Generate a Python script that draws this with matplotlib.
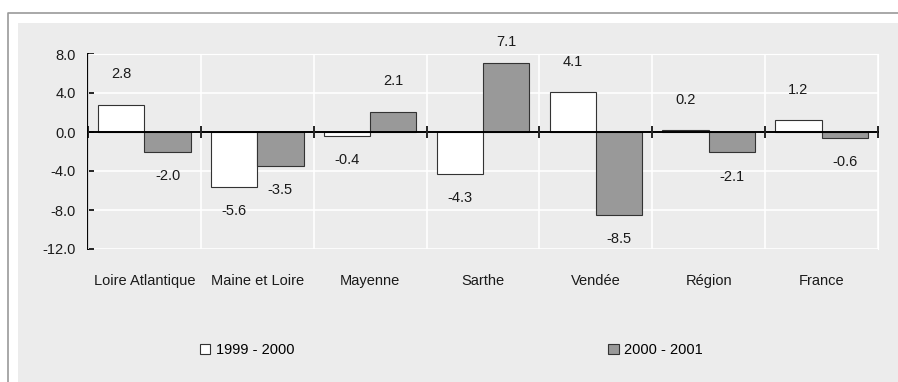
import matplotlib
matplotlib.use("Agg")
import matplotlib.pyplot as plt
from matplotlib.patches import Rectangle, Patch
from matplotlib.lines import Line2D
import numpy as np

plt.rcParams['font.family'] = ['Liberation Sans', 'DejaVu Sans']

# taux d'évolution par département
categories = ['Loire Atlantique', 'Maine et Loire', 'Mayenne', 'Sarthe',
              'Vendée', 'Région', 'France']
v_1999_2000 = [2.8, -5.6, -0.4, -4.3, 4.1, 0.2, 1.2]
v_2000_2001 = [-2.0, -3.5, 2.1, 7.1, -8.5, -2.1, -0.6]
series_names = ['1999 - 2000', '2000 - 2001']
yticks = [-12.0, -8.0, -4.0, 0.0, 4.0, 8.0]

W, H = 898, 382
fs = 10.5
txt = '#1a1a1a'
fig = plt.figure(figsize=(W / 100, H / 100), dpi=100)
fig.patch.set_facecolor('white')

# fond gris et cadre
bg = '#ececec'
fig.add_artist(Rectangle((18 / W, 0), 1 - 18 / W, 1 - 23 / H,
                         transform=fig.transFigure, facecolor=bg,
                         edgecolor='none', zorder=0))
fig.add_artist(Line2D([8 / W, 8 / W, 1], [0, 1 - 13 / H, 1 - 13 / H],
                      transform=fig.transFigure, color='#9a9a9a', lw=1.2))

ax = fig.add_axes([88 / W, 1 - 249 / H, (878 - 88) / W, (249 - 54) / H])
ax.set_facecolor(bg)

x = np.arange(len(categories))
w = 0.41
ax.bar(x - w / 2, v_1999_2000, w, color='white', edgecolor='#333333',
       linewidth=0.8, zorder=3)
ax.bar(x + w / 2, v_2000_2001, w, color='#999999', edgecolor='#333333',
       linewidth=0.8, zorder=3)

ax.set_xlim(-0.5, len(categories) - 0.5)
ax.set_ylim(-12, 8)

# étiquettes de valeurs
for xs, vals in ((x - w / 2, v_1999_2000), (x + w / 2, v_2000_2001)):
    for xi, v in zip(xs, vals):
        if v >= 0:
            y = min(v + 3.1, 9.2)
        else:
            y = v - 2.5
        ax.text(xi, y, f"{v:.1f}", ha='center', va='center', fontsize=fs,
                color=txt)

# axes
ax.set_yticks(yticks)
ax.set_yticklabels([f"{t:.1f}" for t in yticks], fontsize=fs, color=txt)
ax.tick_params(axis='y', direction='in', length=4.5, width=1.2, pad=9)
ax.set_xticks(np.arange(len(categories) + 1) - 0.5)
ax.set_xticklabels([])
ax.tick_params(axis='x', direction='inout', length=9, width=1.2)

ax.grid(True, color='white', linewidth=1.2, zorder=0)
ax.set_axisbelow(True)

ax.spines['bottom'].set_position(('data', 0))
ax.spines['bottom'].set_linewidth(1.4)
ax.spines['bottom'].set_zorder(5)
ax.spines['left'].set_linewidth(1.4)
ax.spines['left'].set_zorder(5)
ax.spines['top'].set_color('white')
ax.spines['right'].set_color('white')
ax.xaxis.set_zorder(5)

for i, c in enumerate(categories):
    ax.annotate(c, xy=(i, 0), xycoords=('data', 'axes fraction'),
                xytext=(0, -23), textcoords='offset points',
                ha='center', va='center', fontsize=fs, color=txt)

handles = [Patch(facecolor='white', edgecolor='#333333', linewidth=0.8),
           Patch(facecolor='#999999', edgecolor='#333333', linewidth=0.8)]
fig.legend(handles, series_names, loc='center',
           bbox_to_anchor=(451 / W, 1 - 350 / H), ncol=2, frameon=False,
           fontsize=fs, handlelength=0.75, handleheight=0.75,
           handletextpad=0.35, columnspacing=21.5)

fig.savefig('out.png', dpi=100, facecolor=fig.get_facecolor())
